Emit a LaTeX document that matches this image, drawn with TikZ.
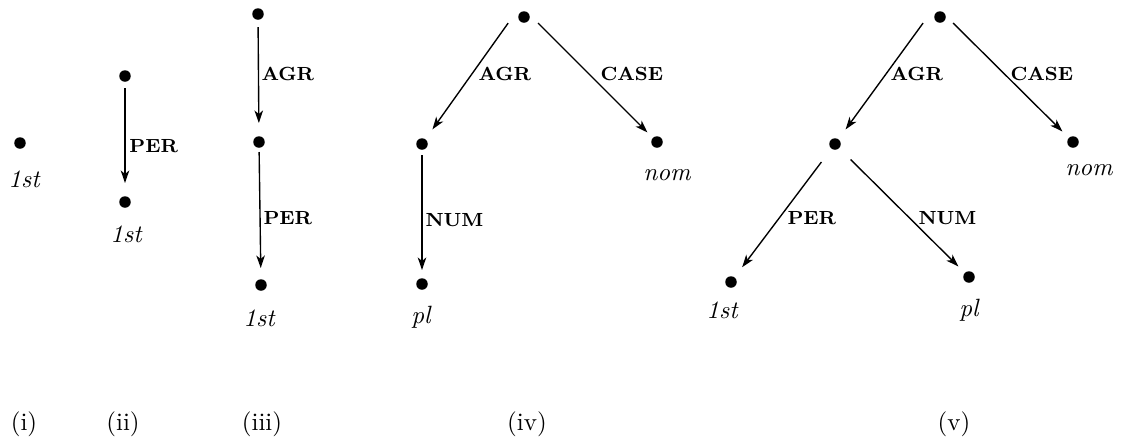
\documentclass[tikz,border=0pt]{standalone}
\usetikzlibrary{arrows.meta}
\begin{document}
\begin{tikzpicture}[x=0.4pt,y=-0.4pt,
  dot/.style={circle,fill=black,inner sep=0pt,minimum size=4.6pt},
  arr/.style={line width=0.55pt,-{Stealth[length=5pt,width=3.4pt,inset=1.4pt]}},
  lbl/.style={anchor=west,inner sep=0pt,font=\fontsize{7.6}{9}\selectfont\bfseries},
  val/.style={anchor=base,inner sep=0pt,font=\itshape},
  num/.style={anchor=base,inner sep=0pt}]
\useasboundingbox (0,0) rectangle (1122,442);
% (i)
\node[dot] (d1) at (20,143) {};
\node[val] (v1) at (24,187) {1st};
% (ii)
\node[dot] (t2) at (125,76) {};
\node[dot] (b2) at (125,202) {};
\draw[arr,shorten <=4.8pt,shorten >=7.6pt] (t2.center) -- (b2.center);
\node[lbl] (l2) at (129,146) {PER};
\node[val] (v2) at (126,242) {1st};
% (iii)
\node[dot] (t3) at (258,14) {};
\node[dot] (m3) at (259,142) {};
\node[dot] (b3) at (261,285) {};
\draw[arr,shorten <=5.2pt,shorten >=7.6pt] (t3.center) -- (m3.center);
\draw[arr,shorten <=4pt,shorten >=6.8pt] (m3.center) -- (b3.center);
\node[lbl] (l3a) at (261,74) {AGR};
\node[lbl] (l3b) at (263,218) {PER};
\node[val] (v3) at (259,326) {1st};
% (iv)
\node[dot] (t4) at (524,17) {};
\node[dot] (l4) at (422,144) {};
\node[dot] (r4) at (657,142) {};
\node[dot] (b4) at (422,284) {};
\draw[arr,shorten <=3pt,shorten >=7.2pt] ([xshift=-4.6pt]t4.center) -- (l4.center);
\draw[arr,shorten <=3.4pt,shorten >=5.4pt] ([xshift=3.2pt]t4.center) -- (r4.center);
\draw[arr,shorten <=4.4pt,shorten >=5.6pt] (l4.center) -- (b4.center);
\node[lbl] (l4a) at (478,74) {AGR};
\node[lbl] (l4b) at (600,74) {CASE};
\node[lbl] (l4c) at (425,220) {NUM};
\node[val] (v4a) at (421,323) {pl};
\node[val] (v4b) at (667,180) {nom};
% (v)
\node[dot] (t5) at (940,17) {};
\node[dot] (m5) at (835,144) {};
\node[dot] (r5) at (1073,142) {};
\node[dot] (p5) at (731,282) {};
\node[dot] (n5) at (969,277) {};
\draw[arr,shorten <=3pt,shorten >=7.2pt] ([xshift=-5pt]t5.center) -- (m5.center);
\draw[arr,shorten <=3.4pt,shorten >=6pt] ([xshift=2.8pt]t5.center) -- (r5.center);
\draw[arr,shorten <=9pt,shorten >=7.4pt] (m5.center) -- (p5.center);
\draw[arr,shorten <=8.8pt,shorten >=6pt] (m5.center) -- (n5.center);
\node[lbl] (l5a) at (890,74) {AGR};
\node[lbl] (l5b) at (1010,74) {CASE};
\node[lbl] (l5c) at (787,218) {PER};
\node[lbl] (l5d) at (918,218) {NUM};
\node[val] (v5a) at (1089,175) {nom};
\node[val] (v5b) at (722,318) {1st};
\node[val] (v5c) at (969,316) {pl};
% captions
\node[num] (c1) at (24,430) {(i)};
\node[num] (c2) at (123,430) {(ii)};
\node[num] (c3) at (262,430) {(iii)};
\node[num] (c4) at (527,430) {(iv)};
\node[num] (c5) at (954,430) {(v)};
\end{tikzpicture}
\end{document}
